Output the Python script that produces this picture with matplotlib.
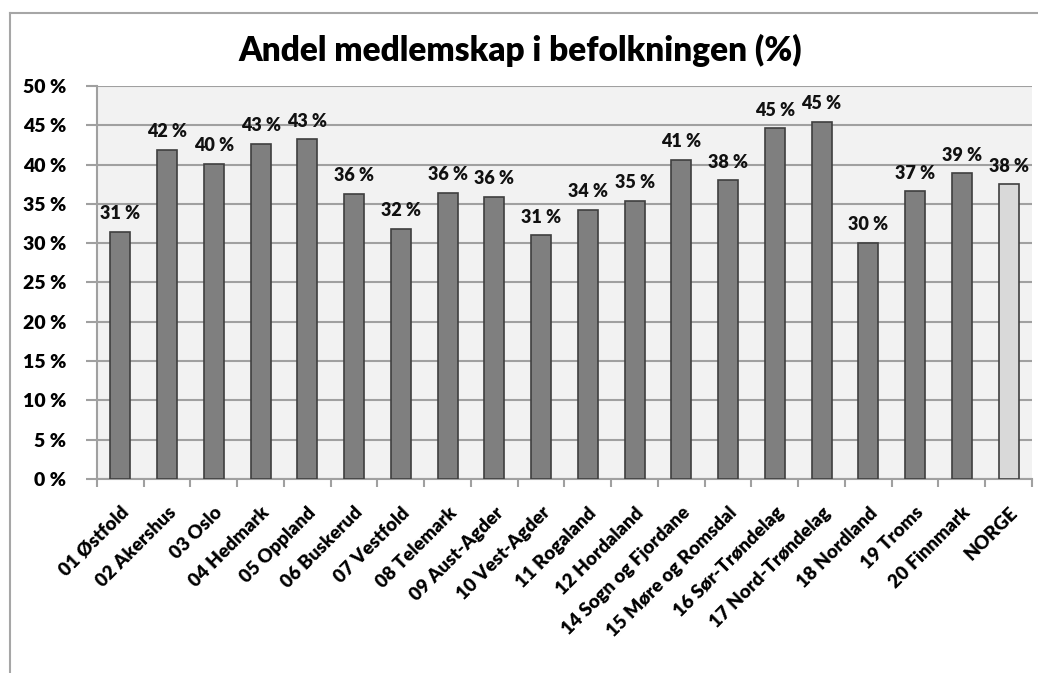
import matplotlib.pyplot as plt
from matplotlib.lines import Line2D
import numpy as np

# Fylker og andel medlemskap (%)
fylker = ['01 Østfold', '02 Akershus', '03 Oslo', '04 Hedmark', '05 Oppland',
          '06 Buskerud', '07 Vestfold', '08 Telemark', '09 Aust-Agder',
          '10 Vest-Agder', '11 Rogaland', '12 Hordaland', '14 Sogn og Fjordane',
          '15 Møre og Romsdal', '16 Sør-Trøndelag', '17 Nord-Trøndelag',
          '18 Nordland', '19 Troms', '20 Finnmark', 'NORGE']
andel = [31.4, 41.9, 40.1, 42.6, 43.2, 36.3, 31.8, 36.4, 35.9, 31.0,
         34.2, 35.4, 40.6, 38.0, 44.6, 45.4, 30.0, 36.6, 38.9, 37.5]
y_ticks = [0, 5, 10, 15, 20, 25, 30, 35, 40, 45, 50]

plt.rcParams['font.family'] = ['Lato', 'DejaVu Sans']
plt.rcParams['font.weight'] = 'heavy'

fig = plt.figure(figsize=(10.38, 6.73), dpi=100)
ax = fig.add_axes([0.0934, 0.2883, 0.9008, 0.5839])

x = np.arange(len(fylker))
colors = ['#7f7f7f'] * (len(fylker) - 1) + ['#d9d9d9']
bars = ax.bar(x, andel, width=0.43, color=colors, edgecolor='#3f3f3f',
              linewidth=1.2, zorder=3)

for xi, v in zip(x, andel):
    ax.annotate(f'{round(v)} %', (xi, v), xytext=(0, 7), textcoords='offset points',
                ha='center', va='bottom', fontsize=13, fontweight='heavy',
                color='#111111')

ax.set_facecolor('#f2f2f2')
ax.set_xlim(-0.5, len(fylker) - 0.5)
ax.set_ylim(0, 50)
ax.set_yticks(y_ticks)
ax.set_yticklabels([f'{t} %' for t in y_ticks], fontsize=14, fontweight='heavy')
ax.yaxis.grid(True, color='#a0a0a0', linewidth=1.5, zorder=0)

ax.set_xticks(x)
ax.set_xticklabels(fylker, rotation=45, ha='right', rotation_mode='anchor',
                   fontsize=13.5, fontweight='heavy')
ax.set_xticks(np.arange(-0.5, len(fylker)), minor=True)
ax.tick_params(axis='x', which='major', length=0, pad=18)
ax.tick_params(axis='x', which='minor', length=6, color='#a0a0a0', width=1.5)
ax.tick_params(axis='y', length=8, color='#a0a0a0', width=1.5, pad=14)

for side in ['right', 'top']:
    ax.spines[side].set_visible(False)
for side in ['left', 'bottom']:
    ax.spines[side].set_color('#a0a0a0')
    ax.spines[side].set_linewidth(1.5)

fig.text(0.501, 0.925, 'Andel medlemskap i befolkningen (%)', ha='center', va='center',
         fontsize=24, fontweight='heavy')

# ramme rundt diagrammet
fig.add_artist(Line2D([10 / 1038, 10 / 1038], [0, 1 - 13 / 673], color='#a6a6a6', lw=1.5))
fig.add_artist(Line2D([10 / 1038, 1], [1 - 13 / 673, 1 - 13 / 673], color='#a6a6a6', lw=1.5))

fig.savefig('out.png', dpi=100)
